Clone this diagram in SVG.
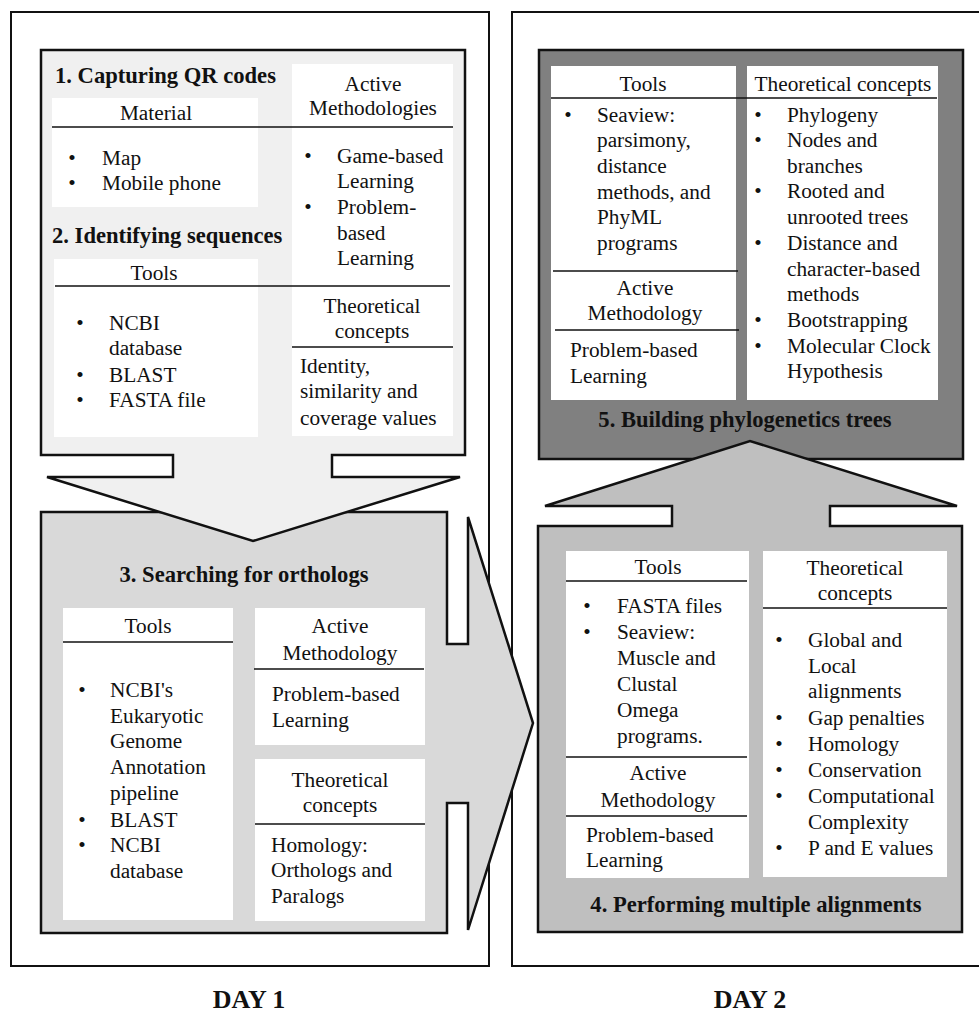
<svg xmlns="http://www.w3.org/2000/svg" width="979" height="1012" viewBox="0 0 979 1012">
<style>
text{font-family:"Liberation Serif","Times New Roman",serif;font-size:21.3px;fill:#111}
.b{font-weight:bold;font-size:22.6px}
.d{font-weight:bold;font-size:26px}
.m{text-anchor:middle}
.frame{fill:#fff;stroke:#111;stroke-width:2}
.shape{stroke:#111;stroke-width:2.5;stroke-linejoin:miter}
.w{fill:#fff}
.ln{stroke:#111;stroke-width:1.5}
</style>
<rect width="979" height="1012" fill="#fff"/>
<g id="day1-frame"><rect class="frame" x="11" y="12" width="478" height="954"/></g>
<g id="day2-frame"><rect class="frame" x="512" y="12" width="470" height="954"/></g>

<g id="step3">
<path class="shape" fill="#d9d9d9" d="M41,512 H447 V644 H468 V517 L533,723 L468,930 V803 H447 V933 H41 Z"/>
<text class="b m" x="244" y="582">3. Searching for orthologs</text>
<rect class="w" x="63" y="608" width="170" height="312"/>
<line class="ln" x1="63" y1="642" x2="233" y2="642"/>
<text class="m" x="148" y="633">Tools</text>
<text class="m" x="82" y="697">•</text><text x="110" y="697">NCBI's</text>
<text x="110" y="723">Eukaryotic</text>
<text x="110" y="748">Genome</text>
<text x="110" y="774">Annotation</text>
<text x="110" y="800">pipeline</text>
<text class="m" x="82" y="827">•</text><text x="110" y="827">BLAST</text>
<text class="m" x="82" y="852">•</text><text x="110" y="852">NCBI</text>
<text x="110" y="878">database</text>
<rect class="w" x="255" y="608" width="170" height="137"/>
<line class="ln" x1="254" y1="669" x2="424" y2="669"/>
<text class="m" x="340" y="633">Active</text>
<text class="m" x="340" y="660">Methodology</text>
<text x="272" y="701">Problem-based</text>
<text x="272" y="727">Learning</text>
<rect class="w" x="255" y="759" width="170" height="162"/>
<line class="ln" x1="255" y1="824" x2="425" y2="824"/>
<text class="m" x="340" y="787">Theoretical</text>
<text class="m" x="340" y="812">concepts</text>
<text x="271" y="852">Homology:</text>
<text x="271" y="877">Orthologs and</text>
<text x="271" y="903">Paralogs</text>
</g>

<g id="step1-2">
<path class="shape" fill="#f0f0f0" d="M41,50 H465 V455 H332 V477 H460 L253,541 L47,477 H173 V455 H41 Z"/>
<text class="b" x="55" y="83">1. Capturing QR codes</text>
<rect class="w" x="52" y="98" width="206" height="109"/>
<rect class="w" x="292" y="64" width="161" height="372"/>
<rect class="w" x="54" y="259" width="204" height="178"/>
<line class="ln" x1="52" y1="127" x2="453" y2="127"/>
<line class="ln" x1="55" y1="286" x2="450" y2="286"/>
<line class="ln" x1="292" y1="347" x2="453" y2="347"/>
<text class="m" x="156" y="120">Material</text>
<text class="m" x="72" y="165">•</text><text x="102" y="165">Map</text>
<text class="m" x="72" y="190">•</text><text x="102" y="190">Mobile phone</text>
<text class="m" x="373" y="91">Active</text>
<text class="m" x="373" y="115">Methodologies</text>
<text class="m" x="308" y="163">•</text><text x="337" y="163">Game-based</text>
<text x="337" y="188">Learning</text>
<text class="m" x="308" y="214">•</text><text x="337" y="214">Problem-</text>
<text x="337" y="240">based</text>
<text x="337" y="265">Learning</text>
<text class="b" x="52" y="243">2. Identifying sequences</text>
<text class="m" x="154" y="280">Tools</text>
<text class="m" x="80" y="330">•</text><text x="109" y="330">NCBI</text>
<text x="109" y="355">database</text>
<text class="m" x="80" y="382">•</text><text x="109" y="382">BLAST</text>
<text class="m" x="80" y="407">•</text><text x="109" y="407">FASTA file</text>
<text class="m" x="372" y="313">Theoretical</text>
<text class="m" x="372" y="338">concepts</text>
<text x="300" y="373">Identity,</text>
<text x="300" y="398">similarity and</text>
<text x="300" y="425">coverage values</text>
</g>

<g id="step5">
<rect class="shape" fill="#808080" x="539" y="50" width="424" height="409"/>
<rect class="w" x="551" y="66" width="185" height="334"/>
<rect class="w" x="747" y="66" width="191" height="334"/>
<line class="ln" x1="551" y1="98" x2="937" y2="98"/>
<line class="ln" x1="553" y1="271" x2="738" y2="271"/>
<line class="ln" x1="555" y1="330" x2="739" y2="330"/>
<text class="m" x="643" y="91">Tools</text>
<text class="m" x="843" y="91">Theoretical concepts</text>
<text class="m" x="568" y="122">•</text><text x="597" y="122">Seaview:</text>
<text x="597" y="147">parsimony,</text>
<text x="597" y="173">distance</text>
<text x="597" y="199">methods, and</text>
<text x="597" y="224">PhyML</text>
<text x="597" y="250">programs</text>
<text class="m" x="645" y="295">Active</text>
<text class="m" x="645" y="320">Methodology</text>
<text x="570" y="357">Problem-based</text>
<text x="570" y="383">Learning</text>
<text class="m" x="758" y="122">•</text><text x="787" y="122">Phylogeny</text>
<text class="m" x="758" y="147">•</text><text x="787" y="147">Nodes and</text>
<text x="787" y="173">branches</text>
<text class="m" x="758" y="198">•</text><text x="787" y="198">Rooted and</text>
<text x="787" y="224">unrooted trees</text>
<text class="m" x="758" y="250">•</text><text x="787" y="250">Distance and</text>
<text x="787" y="276">character-based</text>
<text x="787" y="301">methods</text>
<text class="m" x="758" y="327">•</text><text x="787" y="327">Bootstrapping</text>
<text class="m" x="758" y="353">•</text><text x="787" y="353">Molecular Clock</text>
<text x="787" y="378">Hypothesis</text>
<text class="b m" x="745" y="427">5. Building phylogenetics trees</text>
</g>

<g id="step4">
<path class="shape" fill="#bfbfbf" d="M538,932 V526 H672 V506 H545 L750,441 L957,506 H830 V526 H962 V932 Z"/>
<rect class="w" x="566" y="551" width="183" height="327"/>
<rect class="w" x="763" y="551" width="184" height="326"/>
<line class="ln" x1="566" y1="581" x2="747" y2="581"/>
<line class="ln" x1="763" y1="608" x2="947" y2="608"/>
<line class="ln" x1="566" y1="757" x2="747" y2="757"/>
<line class="ln" x1="566" y1="816" x2="747" y2="816"/>
<text class="m" x="658" y="574">Tools</text>
<text class="m" x="587" y="613">•</text><text x="617" y="613">FASTA files</text>
<text class="m" x="587" y="639">•</text><text x="617" y="639">Seaview:</text>
<text x="617" y="665">Muscle and</text>
<text x="617" y="691">Clustal</text>
<text x="617" y="717">Omega</text>
<text x="617" y="743">programs.</text>
<text class="m" x="658" y="780">Active</text>
<text class="m" x="658" y="807">Methodology</text>
<text x="586" y="842">Problem-based</text>
<text x="586" y="867">Learning</text>
<text class="m" x="855" y="575">Theoretical</text>
<text class="m" x="855" y="600">concepts</text>
<text class="m" x="779" y="647">•</text><text x="808" y="647">Global and</text>
<text x="808" y="673">Local</text>
<text x="808" y="698">alignments</text>
<text class="m" x="779" y="725">•</text><text x="808" y="725">Gap penalties</text>
<text class="m" x="779" y="751">•</text><text x="808" y="751">Homology</text>
<text class="m" x="779" y="777">•</text><text x="808" y="777">Conservation</text>
<text class="m" x="779" y="803">•</text><text x="808" y="803">Computational</text>
<text x="808" y="829">Complexity</text>
<text class="m" x="779" y="855">•</text><text x="808" y="855">P and E values</text>
<text class="b m" x="756" y="912">4. Performing multiple alignments</text>
</g>

<g id="labels">
<text class="d m" x="249" y="1008">DAY 1</text>
<text class="d m" x="750" y="1008">DAY 2</text>
</g>
</svg>
